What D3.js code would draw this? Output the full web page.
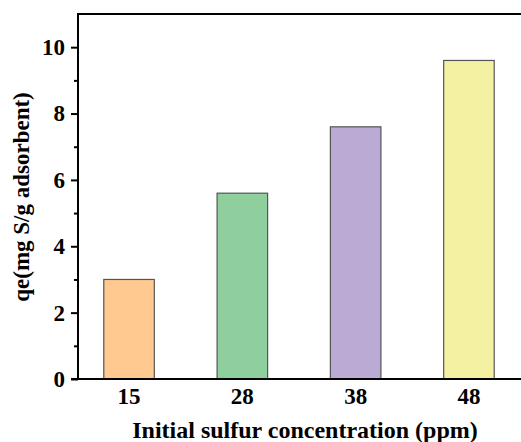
<!DOCTYPE html>
<html>
<head>
<meta charset="utf-8">
<script src="https://cdn.jsdelivr.net/npm/d3@7"></script>
<style>
  body { margin: 0; background: #fff; }
  text { font-family: "Liberation Serif", "Times New Roman", serif; font-weight: bold; }
</style>
</head>
<body>
<div id="chart"></div>
<script>
// concentrations (ppm) and adsorption capacity
const categories = ["15", "28", "38", "48"];
const qeValues = [3.0, 5.6, 7.6, 9.6];
const barColors = ["#FFC990", "#8FCF9E", "#BBAAD3", "#F4F2A2"];
const yTicks = [0, 2, 4, 6, 8, 10];

const width = 521, height = 442;
const plotLeft = 78, plotTop = 14, plotBottom = 379, plotRight = 521;

const svg = d3.select("#chart")
  .append("svg")
    .attr("width", width)
    .attr("height", height);

const x = d3.scaleBand()
  .domain(categories)
  .range([72.4, 525.6])
  .paddingInner(0.554)
  .paddingOuter(0.277);

const y = d3.scaleLinear()
  .domain([0, 11])
  .range([plotBottom, plotTop]);

// bars
svg.selectAll(".bar")
  .data(qeValues)
  .join("rect")
    .attr("class", "bar")
    .attr("x", (d, i) => x(categories[i]))
    .attr("y", d => y(d))
    .attr("width", x.bandwidth())
    .attr("height", d => y(0) - y(d))
    .attr("fill", (d, i) => barColors[i])
    .attr("stroke", "#555")
    .attr("stroke-width", 1.2);

// minor y ticks
svg.append("g")
  .attr("transform", `translate(${plotLeft},0)`)
  .call(d3.axisLeft(y).tickValues([1, 3, 5, 7, 9]).tickSize(4).tickFormat(""))
  .call(g => g.select(".domain").remove())
  .selectAll("line").attr("stroke-width", 2);

// major y ticks
const yAxis = svg.append("g")
  .attr("transform", `translate(${plotLeft},0)`)
  .call(d3.axisLeft(y).tickValues(yTicks).tickSize(7).tickPadding(6));
yAxis.select(".domain").remove();
yAxis.selectAll("line").attr("stroke-width", 2);
yAxis.selectAll("text")
  .attr("font-size", 23)
  .attr("font-family", "Liberation Serif")
  .attr("font-weight", "bold")
  .attr("fill", "#000");

// x axis labels
const xAxis = svg.append("g")
  .attr("transform", `translate(0,${plotBottom})`)
  .call(d3.axisBottom(x).tickSize(0).tickPadding(9));
xAxis.select(".domain").remove();
xAxis.selectAll("text")
  .attr("font-size", 23)
  .attr("font-family", "Liberation Serif")
  .attr("font-weight", "bold")
  .attr("fill", "#000");

// frame lines
svg.append("line")
  .attr("x1", plotLeft).attr("x2", plotLeft)
  .attr("y1", plotTop - 1).attr("y2", plotBottom + 1)
  .attr("stroke", "#000").attr("stroke-width", 2);
svg.append("line")
  .attr("x1", plotLeft).attr("x2", plotRight)
  .attr("y1", plotTop).attr("y2", plotTop)
  .attr("stroke", "#000").attr("stroke-width", 2);
svg.append("line")
  .attr("x1", plotLeft - 7).attr("x2", plotRight)
  .attr("y1", plotBottom).attr("y2", plotBottom)
  .attr("stroke", "#000").attr("stroke-width", 2);

// titles
svg.append("text")
  .attr("x", 305)
  .attr("y", 438)
  .attr("text-anchor", "middle")
  .attr("font-size", 24)
  .text("Initial sulfur concentration (ppm)");

svg.append("text")
  .attr("transform", "translate(29,197) rotate(-90)")
  .attr("text-anchor", "middle")
  .attr("font-size", 23)
  .text("qe(mg S/g adsorbent)");
</script>
</body>
</html>
